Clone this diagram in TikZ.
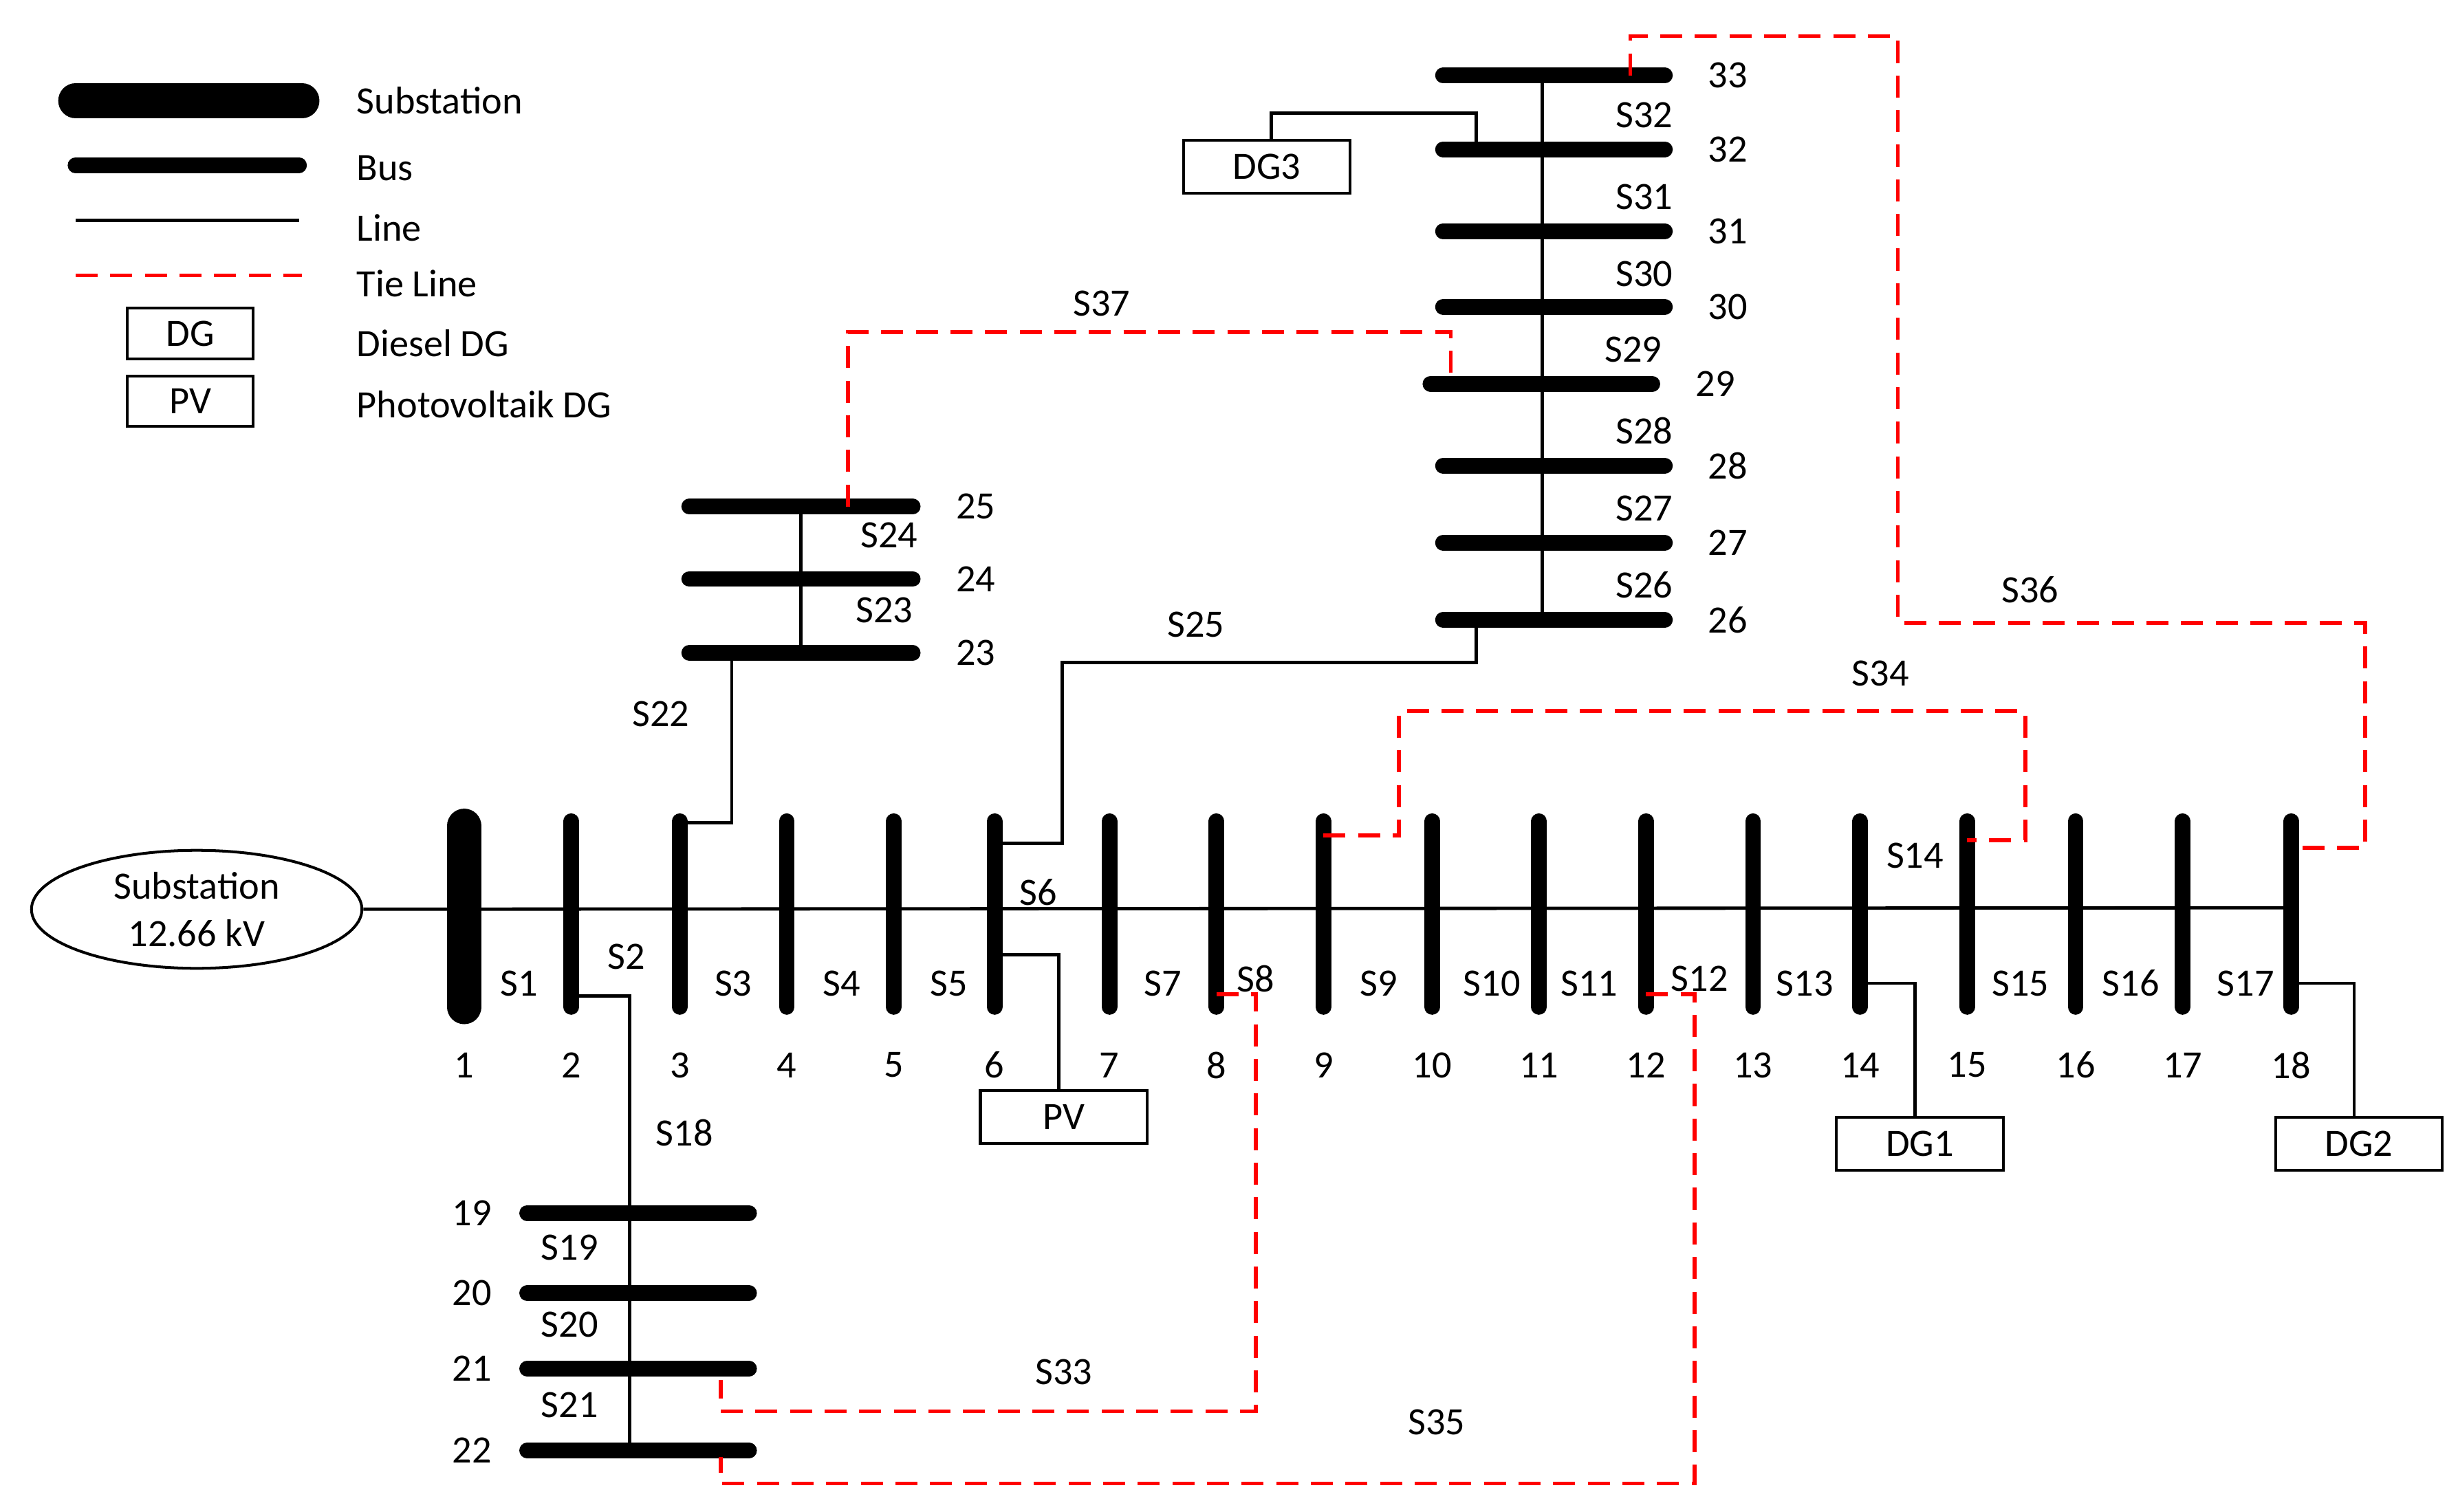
\documentclass[tikz,border=0pt]{standalone}
\usepackage{fontspec}
\setmainfont{Carlito}
\usetikzlibrary{shapes.geometric}

\begin{document}
\begin{tikzpicture}[x=0.1mm,y=-0.1mm,font=\fontsize{7}{8.5}\selectfont,
		bus/.style={line width=1mm,line cap=round},
		subbus/.style={line width=2.2mm,line cap=round},
		line/.style={line width=0.6pt},
		tie/.style={red,line width=0.7pt,dash pattern=on 1.4mm off 0.8mm},
		dg/.style={draw,line width=0.5pt,minimum width=10.6mm,minimum height=3.4mm,inner sep=0pt},
		lg/.style={draw,line width=0.5pt,minimum width=8mm,minimum height=3.2mm,inner sep=0pt},
		lbl/.style={anchor=west,inner sep=0pt}]
	\useasboundingbox (0,0) rectangle (1562,961);

	% legend
	\draw[subbus] (48,64) -- (192,64);
	\draw[bus] (48,105) -- (190,105);
	\draw[line] (48,140) -- (190,140);
	\draw[tie] (48,175) -- (192,175);
	\node[lg] (lgdg) at (121,212) {DG};
	\node[lg] (lgpv) at (121,255) {PV};
	\foreach \t/\y in {Substation/64,Bus/107,Line/145,Tie Line/180,Diesel DG/218,Photovoltaik DG/257}
		\node[lbl] at (226,\y) {\t};

	% main feeder
	\node[ellipse,draw,line width=0.5pt,minimum width=21mm,minimum height=7.5mm,align=center,inner sep=0pt]
		(sub) at (125,578) {Substation\\12.66 kV};
	\draw[subbus] (295,525) -- (295,640);
	\coordinate (b1) at (295,577);
	\node at (295,677) {1};
	\foreach \n/\x in {2/363,3/432,4/500,5/568,6/632,7/705,8/773,9/841,10/910,11/978,12/1046,13/1114,14/1182,15/1250,16/1319,17/1387,18/1456} {
		\draw[bus] (\x,522) -- (\x,640);
		\coordinate (b\n) at (\x,577);
		\node at (\x,677) {\n};
	}
	\draw[line] (sub) -- (b18);
	\foreach \s/\x/\y in {1/330/625,2/398/608,3/466/625,4/535/625,5/603/625,6/660/567,7/739/625,8/798/622,9/876/625,10/948/625,11/1010/625,12/1080/622,13/1147/625,14/1217/544,15/1284/625,16/1354/625,17/1427/625}
		\node at (\x,\y) {S\s};

	% lateral 19-22
	\foreach \n/\y in {19/771,20/822,21/870,22/922} {
		\draw[bus] (335,\y) -- (476,\y);
		\coordinate (b\n) at (400,\y);
		\node at (300,\y) {\n};
	}
	\draw[line] (b2) ++(0,56) -- ++(37,0) -- (b22);
	\foreach \s/\x/\y in {18/435/720,19/362/793,20/362/842,21/362/893}
		\node at (\x,\y) {S\s};

	% lateral 23-25
	\foreach \n/\y in {23/415,24/368,25/322} {
		\draw[bus] (438,\y) -- (580,\y);
		\coordinate (b\n) at (509,\y);
		\node at (620,\y) {\n};
	}
	\draw[line] (b3) ++(0,-54) -- ++(33,0) -- ++(0,-108);
	\draw[line] (b23) -- (b25);
	\foreach \s/\x/\y in {22/420/454,23/562/388,24/565/340}
		\node at (\x,\y) {S\s};

	% lateral 26-33
	\foreach \n/\y/\l/\r in {26/394/917/1058,27/345/917/1058,28/296/917/1058,29/244/909/1050,30/195/917/1058,31/147/917/1058,32/95/917/1058,33/48/917/1058} {
		\draw[bus] (\l,\y) -- (\r,\y);
		\coordinate (b\n) at (980,\y);
		\node at (\r+40,\y) {\n};
	}
	\draw[line] (b6) ++(0,-41) -- ++(43,0) |- (938,421) -- (938,394);
	\draw[line] (b26) -- (b33);
	\foreach \s/\x/\y in {25/760/397,26/1045/372,27/1045/323,28/1045/274,29/1038/222,30/1045/174,31/1045/125,32/1045/73}
		\node at (\x,\y) {S\s};

	% generators
	\node[dg] (dg3) at (805,106) {DG3};
	\node[dg] (pv) at (676,710) {PV};
	\node[dg] (dg1) at (1220,727) {DG1};
	\node[dg] (dg2) at (1499,727) {DG2};
	\draw[line] (dg3.north) ++(3,0) |- (938,72) -- (938,95);
	\draw[line] (b6) ++(0,30) -| (pv.north -| 673,0);
	\draw[line] (b14) ++(0,48) -| (dg1.north -| 1217,0);
	\draw[line] (b18) ++(0,48) -| (dg2.north -| 1496,0);

	% tie lines
	\draw[tie] (b8) ++(0,55) -- ++(25,0) |- (458,897) -- (458,877);
	\draw[tie] (b12) ++(0,55) -- ++(31,0) |- (458,943) -- (458,926);
	\draw[tie] (b9) ++(0,-46) -- ++(48,0) |- (1287,452) |- (1250,534);
	\draw[tie] (b33) ++(56,0) |- (1206,23) |- (1503,396) |- (1456,539);
	\draw[tie] (539,322) |- (922,211) -- (922,244);
	\node at (676,872) {S33};
	\node at (913,904) {S35};
	\node at (1195,428) {S34};
	\node at (1290,375) {S36};
	\node at (700,193) {S37};
\end{tikzpicture}
\end{document}
